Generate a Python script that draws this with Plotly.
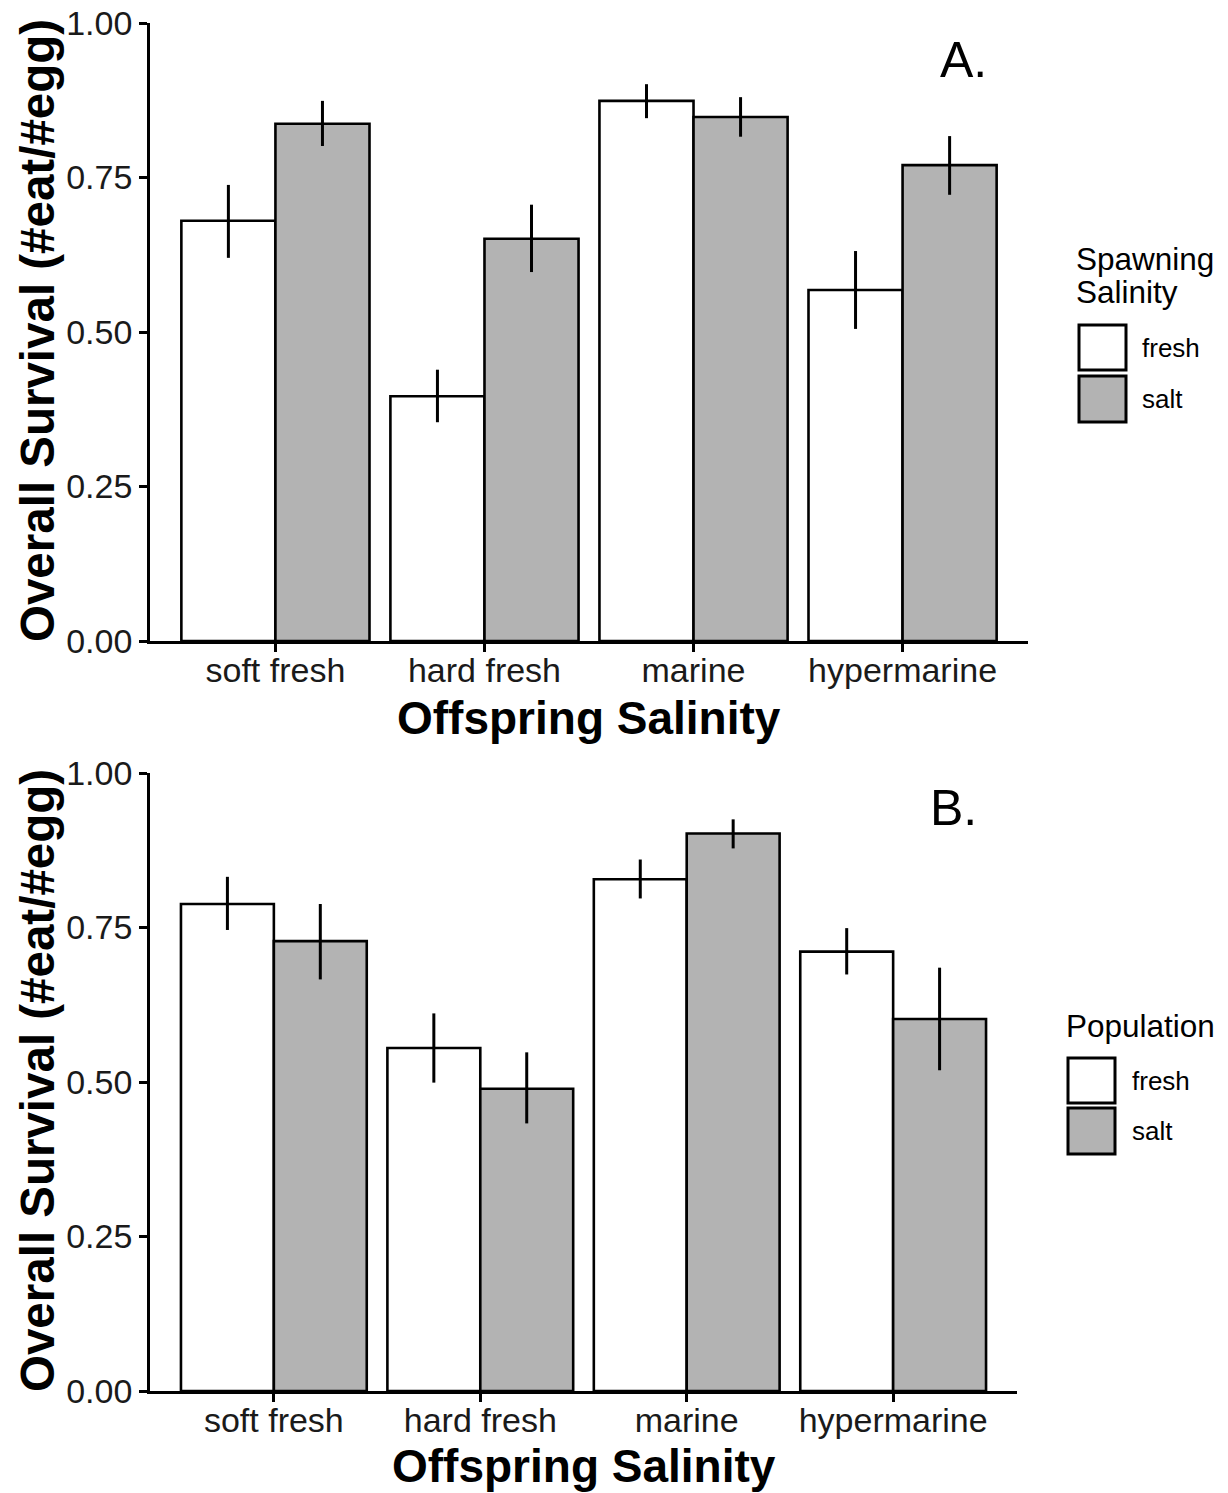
import plotly.graph_objects as go

categories = ["soft fresh", "hard fresh", "marine", "hypermarine"]
y_ticks = [0.0, 0.25, 0.5, 0.75, 1.0]
y_tick_labels = ["0.00", "0.25", "0.50", "0.75", "1.00"]

# Panel A: Spawning salinity
a_fresh_mean = [0.680, 0.396, 0.874, 0.568]
a_fresh_hi = [0.738, 0.439, 0.901, 0.631]
a_fresh_lo = [0.620, 0.354, 0.846, 0.505]
a_salt_mean = [0.837, 0.651, 0.848, 0.770]
a_salt_hi = [0.874, 0.706, 0.880, 0.817]
a_salt_lo = [0.801, 0.597, 0.816, 0.722]

# Panel B: Population
b_fresh_mean = [0.788, 0.555, 0.828, 0.711]
b_fresh_hi = [0.832, 0.611, 0.860, 0.749]
b_fresh_lo = [0.746, 0.499, 0.797, 0.674]
b_salt_mean = [0.728, 0.489, 0.902, 0.602]
b_salt_hi = [0.788, 0.548, 0.925, 0.685]
b_salt_lo = [0.666, 0.433, 0.878, 0.519]

legend_labels = ["fresh", "salt"]
fills = ["#FFFFFF", "#B3B3B3"]
FONT = "Liberation Sans, Arial, Helvetica, sans-serif"
W, H = 1228, 1493

fig = go.Figure()


def px_x(v):
    return v / W


def px_y(v):
    return 1 - v / H


def add_bars(means, his, los, fill, xa, ya):
    plus = [h - m for h, m in zip(his, means)]
    minus = [m - l for m, l in zip(means, los)]
    fig.add_trace(go.Bar(
        x=categories, y=means, xaxis=xa, yaxis=ya,
        marker=dict(color=fill, line=dict(color="black", width=2.6)),
        error_y=dict(type="data", array=plus, arrayminus=minus, symmetric=False,
                     color="black", thickness=3, width=0),
        showlegend=False,
    ))


add_bars(a_fresh_mean, a_fresh_hi, a_fresh_lo, fills[0], "x", "y")
add_bars(a_salt_mean, a_salt_hi, a_salt_lo, fills[1], "x", "y")
add_bars(b_fresh_mean, b_fresh_hi, b_fresh_lo, fills[0], "x2", "y2")
add_bars(b_salt_mean, b_salt_hi, b_salt_lo, fills[1], "x2", "y2")

axis_common = dict(showline=True, linecolor="black", linewidth=2.6, ticks="outside",
                   ticklen=8, tickwidth=2.6, tickcolor="black", showgrid=False,
                   zeroline=False, automargin=False,
                   tickfont=dict(family=FONT, size=34, color="#1a1a1a"))

fig.update_layout(
    template="none",
    width=W, height=H, autosize=False,
    margin=dict(l=0, r=0, t=0, b=0, pad=0),
    paper_bgcolor="white", plot_bgcolor="white",
    barmode="group", bargap=0.1, bargroupgap=0,
    xaxis=dict(domain=[px_x(150), px_x(1028)], anchor="y", type="category",
               range=[-0.6, 3.6], ticklabelstandoff=-11, **axis_common),
    yaxis=dict(domain=[px_y(641), px_y(23)], anchor="x", range=[0, 1],
               tickvals=y_ticks, ticktext=y_tick_labels, **axis_common),
    xaxis2=dict(domain=[px_x(150), px_x(1017)], anchor="y2", type="category",
                range=[-0.6, 3.6], ticklabelstandoff=-11, **axis_common),
    yaxis2=dict(domain=[px_y(1391), px_y(773)], anchor="x2", range=[0, 1],
                tickvals=y_ticks, ticktext=y_tick_labels, **axis_common),
)

annotations = []
shapes = []

def add_text(text, x, y, size, bold=False, angle=0, xanchor="center"):
    t = f"<b>{text}</b>" if bold else text
    annotations.append(dict(text=t, x=px_x(x), y=px_y(y), xref="paper", yref="paper",
                            showarrow=False, textangle=angle, xanchor=xanchor,
                            yanchor="middle",
                            font=dict(family=FONT, size=size, color="black")))

# axis titles
add_text("Offspring Salinity", 589, 718, 46, bold=True)
add_text("Offspring Salinity", 584, 1466, 46, bold=True)
add_text("Overall Survival (#eat/#egg)", 37, 331, 47.5, bold=True, angle=-90)
add_text("Overall Survival (#eat/#egg)", 37, 1081, 47.5, bold=True, angle=-90)

# panel labels
annotations.append(dict(text="A.", x=3.29, y=0.94, xref="x", yref="y", showarrow=False,
                        font=dict(family=FONT, size=50, color="black")))
annotations.append(dict(text="B.", x=3.29, y=0.944, xref="x2", yref="y2", showarrow=False,
                        font=dict(family=FONT, size=50, color="black")))

# legends
def legend(title_lines, title_x, title_ys, box_x, box_ys, label_x):
    for line, ty in zip(title_lines, title_ys):
        add_text(line, title_x, ty, 31.5, xanchor="left")
    for lab, fill, (y0, y1) in zip(legend_labels, fills, box_ys):
        shapes.append(dict(type="rect", xref="paper", yref="paper",
                           x0=px_x(box_x[0]), x1=px_x(box_x[1]), y0=px_y(y1), y1=px_y(y0),
                           line=dict(color="black", width=3), fillcolor=fill))
        add_text(lab, label_x, (y0 + y1) / 2, 26, xanchor="left")

legend(["Spawning", "Salinity"], 1074, [259, 292], (1079, 1126), [(325, 370), (376, 422)], 1140)
legend(["Population"], 1064, [1026], (1068, 1115), [(1058, 1103), (1108, 1154)], 1130)

fig.update_layout(annotations=annotations, shapes=shapes)

fig.write_html("out.html")
